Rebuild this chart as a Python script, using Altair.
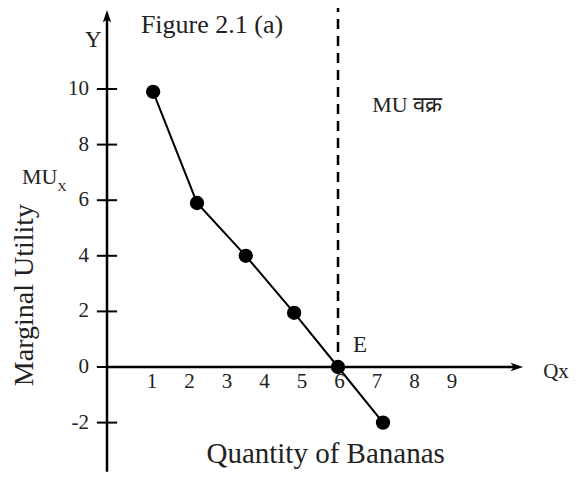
import altair as alt
import pandas as pd

# ---- data ----
qty = [1.03, 2.2, 3.5, 4.79, 5.96, 7.16]          # quantity of bananas (as drawn)
mu = [9.9, 5.9, 4.0, 1.95, 0.0, -2.0]              # marginal utility
y_ticks = [10, 8, 6, 4, 2, 0, -2]
x_ticks = [1, 2, 3, 4, 5, 6, 7, 8, 9]
y_tick_labels = ["10", "8", "6", "4", "2", "0", "-2"]
x_tick_labels = ["1", "2", "3", "4", "5", "6", "7", "8", "9"]
equilibrium_q = 5.96

FONT = "Liberation Serif"

xs = alt.Scale(domain=[-2.84, 12.173], nice=False, zero=False)
ys = alt.Scale(domain=[-3.777, 12.914], nice=False, zero=False)


def X(f):
    return alt.X(f, type="quantitative", scale=xs, axis=None)


def Y(f):
    return alt.Y(f, type="quantitative", scale=ys, axis=None)


# axis lines
axes_df = pd.DataFrame({
    "x": [-0.2, -0.2], "x2": [-0.2, 10.71],
    "y": [-3.77, 0.0], "y2": [12.59, 0.0],
})
axes = alt.Chart(axes_df).mark_rule(color="black", strokeWidth=2.5).encode(
    x=X("x"), x2="x2", y=Y("y"), y2="y2")

# arrow heads
arrow_df = pd.DataFrame({
    "x": [-0.2, 10.71], "y": [12.59, 0.0],
    "shape": ["M0,-1L0.6,0.8L0,0.35L-0.6,0.8Z", "M1,0L-0.8,0.6L-0.35,0L-0.8,-0.6Z"],
})
arrows = alt.Chart(arrow_df).mark_point(filled=True, color="black", opacity=1, size=196).encode(
    x=X("x"), y=Y("y"), shape=alt.Shape("shape:N", scale=None))

# y tick marks
yt_df = pd.DataFrame({"y": y_ticks, "x": [-0.47] * len(y_ticks), "x2": [0.07] * len(y_ticks)})
yticks = alt.Chart(yt_df).mark_rule(color="black", strokeWidth=2).encode(
    x=X("x"), x2="x2", y=Y("y"))

# tick labels
ytl_df = pd.DataFrame({"y": y_ticks, "label": y_tick_labels, "x": [-0.68] * len(y_ticks)})
ytl = alt.Chart(ytl_df).mark_text(font=FONT, fontSize=21, align="right", baseline="middle",
                                  color="#222").encode(x=X("x"), y=Y("y"), text="label")
xtl_df = pd.DataFrame({"x": x_ticks, "label": x_tick_labels, "y": [-0.54] * len(x_ticks)})
xtl = alt.Chart(xtl_df).mark_text(font=FONT, fontSize=21, align="center", baseline="middle",
                                  color="#222").encode(x=X("x"), y=Y("y"), text="label")

# dashed MU line at equilibrium
dash_df = pd.DataFrame({"x": [equilibrium_q], "y": [0.54], "y2": [12.914]})
dash = alt.Chart(dash_df).mark_rule(color="black", strokeWidth=2.5, strokeDash=[10, 7]).encode(
    x=X("x"), y=Y("y"), y2="y2")

# MU curve
mu_df = pd.DataFrame({"q": qty, "mu": mu})
line = alt.Chart(mu_df).mark_line(color="black", strokeWidth=2).encode(x=X("q"), y=Y("mu"))
pts = alt.Chart(mu_df).mark_circle(color="black", opacity=1, size=205).encode(x=X("q"), y=Y("mu"))

# labels
left_df = pd.DataFrame({
    "x": [6.36, -0.79, 6.87, -2.467, 11.43],
    "y": [0.79, 11.76, 9.42, 6.85, -0.18],
    "label": ["E", "Y", "MU वक्र", "MU", "Qx"],
    "size": [23, 23, 22, 22, 21],
})
left_txt = alt.Chart(left_df).mark_text(font=FONT, align="left", baseline="middle", color="#222").encode(
    x=X("x"), y=Y("y"), text="label", size=alt.Size("size:Q", scale=None))

sub_df = pd.DataFrame({"x": [-1.53], "y": [6.47], "label": ["X"]})
sub_txt = alt.Chart(sub_df).mark_text(font=FONT, fontSize=13, align="left", baseline="middle",
                                      color="#222").encode(x=X("x"), y=Y("y"), text="label")

center_df = pd.DataFrame({
    "x": [5.63, 2.6], "y": [-3.45, 12.02],
    "label": ["Quantity of Bananas", "Figure 2.1 (a)"],
    "size": [29, 26],
})
center_txt = alt.Chart(center_df).mark_text(font=FONT, align="center", baseline="alphabetic",
                                            color="#222").encode(
    x=X("x"), y=Y("y"), text="label", size=alt.Size("size:Q", scale=None))

ylab_df = pd.DataFrame({"x": [-2.40], "y": [2.59], "label": ["Marginal Utility"]})
ylab = alt.Chart(ylab_df).mark_text(font=FONT, fontSize=28, angle=270, align="center",
                                    baseline="middle", color="#222").encode(
    x=X("x"), y=Y("y"), text="label")

chart = alt.layer(axes, arrows, yticks, dash, line, pts, ytl, xtl, left_txt, sub_txt,
                  center_txt, ylab).properties(
    width=563, height=464, autosize=alt.AutoSizeParams(type="none"), padding=0,
    background="white",
).configure_view(strokeWidth=0)

chart.save("out.html", embed_options={"renderer": "svg", "actions": False})
